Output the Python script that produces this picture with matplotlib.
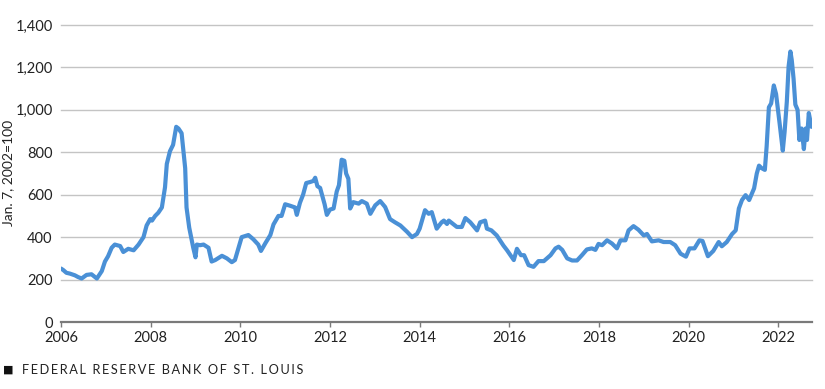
import matplotlib
matplotlib.use('Agg')
import matplotlib.pyplot as plt

# ---- font ----
plt.rcParams['font.family'] = ['Lato', 'DejaVu Sans']

# ---- data (decimal year, index Jan. 7, 2002=100) ----
years = [
    2006.00, 2006.05, 2006.12, 2006.20, 2006.31, 2006.38, 2006.46, 2006.57, 2006.68,
    2006.80, 2006.91, 2006.98, 2007.05, 2007.13, 2007.20, 2007.32, 2007.39, 2007.50,
    2007.62, 2007.73, 2007.84, 2007.91, 2007.99, 2008.03, 2008.10, 2008.17, 2008.25,
    2008.32, 2008.36, 2008.43, 2008.50, 2008.57, 2008.62, 2008.69, 2008.77, 2008.80,
    2008.86, 2008.95, 2009.00, 2009.03, 2009.10, 2009.18, 2009.29, 2009.36, 2009.44,
    2009.59, 2009.70, 2009.81, 2009.88, 2009.96, 2010.03, 2010.18, 2010.29, 2010.40,
    2010.46, 2010.56, 2010.67, 2010.74, 2010.85, 2010.92, 2011.00, 2011.11, 2011.22,
    2011.26, 2011.33, 2011.40, 2011.47, 2011.56, 2011.63, 2011.67, 2011.72, 2011.78,
    2011.88, 2011.93, 2012.00, 2012.08, 2012.15, 2012.20, 2012.26, 2012.32, 2012.36,
    2012.41, 2012.45, 2012.52, 2012.64, 2012.71, 2012.82, 2012.90, 2013.01, 2013.12,
    2013.23, 2013.34, 2013.45, 2013.57, 2013.72, 2013.83, 2013.94, 2014.00, 2014.12,
    2014.20, 2014.27, 2014.38, 2014.49, 2014.54, 2014.61, 2014.65, 2014.83, 2014.94,
    2015.02, 2015.13, 2015.28, 2015.35, 2015.46, 2015.50, 2015.60, 2015.72, 2015.87,
    2015.95, 2016.10, 2016.17, 2016.26, 2016.33, 2016.43, 2016.54, 2016.65, 2016.77,
    2016.92, 2017.03, 2017.10, 2017.18, 2017.29, 2017.40, 2017.51, 2017.62, 2017.73,
    2017.84, 2017.92, 2017.99, 2018.07, 2018.18, 2018.29, 2018.40, 2018.48, 2018.59,
    2018.66, 2018.77, 2018.88, 2019.00, 2019.07, 2019.18, 2019.33, 2019.44, 2019.59,
    2019.70, 2019.82, 2019.94, 2020.02, 2020.13, 2020.24, 2020.31, 2020.43, 2020.55,
    2020.67, 2020.74, 2020.85, 2020.97, 2021.05, 2021.12, 2021.19, 2021.27, 2021.35,
    2021.46, 2021.52, 2021.57, 2021.63, 2021.70, 2021.74, 2021.79, 2021.84, 2021.90,
    2021.95, 2022.03, 2022.10, 2022.14, 2022.19, 2022.23, 2022.27, 2022.30, 2022.34,
    2022.38, 2022.43, 2022.47, 2022.52, 2022.57, 2022.61, 2022.64, 2022.68, 2022.74,
]
values = [
    252, 245, 232, 228, 220, 212, 205, 222, 225,
    205, 240, 285, 310, 350, 365, 358, 330, 345,
    338, 365, 400, 455, 485, 478, 500, 515, 540,
    635, 745, 805, 835, 920, 912, 890, 725, 540,
    445, 350, 305, 365, 362, 365, 350, 285, 292,
    312, 300, 282, 292, 350, 400, 410, 390, 365,
    335, 372, 410, 460, 500, 500, 555, 548, 540,
    505, 562, 600, 655, 660, 665, 680, 640, 632,
    555, 505, 530, 535, 615, 645, 765, 760, 700,
    675, 535, 565, 558, 570, 558, 510, 550, 570,
    542, 485, 470, 455, 425, 400, 415, 440, 527,
    510, 518, 440, 470, 478, 462, 478, 448, 448,
    490, 470, 432, 470, 478, 440, 432, 408, 360,
    338, 292, 345, 315, 315, 268, 260, 287, 287,
    315, 347, 355, 340, 300, 290, 290, 315, 342,
    347, 340, 368, 362, 385, 370, 347, 385, 385,
    432, 452, 435, 408, 415, 380, 385, 377, 377,
    362, 322, 308, 347, 347, 385, 382, 310, 335,
    377, 357, 377, 415, 432, 535, 575, 598, 575,
    630, 700, 737, 725, 717, 828, 1012, 1030, 1115,
    1075, 935, 808, 895, 1038, 1205, 1275, 1235, 1148,
    1025, 1000, 858, 912, 815, 912, 858, 985, 920,
]
x_ticks = [2006, 2008, 2010, 2012, 2014, 2016, 2018, 2020, 2022]
y_ticks = [0, 200, 400, 600, 800, 1000, 1200, 1400]
y_label = 'Jan. 7, 2002=100'
source = 'FEDERAL RESERVE BANK OF ST. LOUIS'

# ---- figure ----
fig = plt.figure(figsize=(8.25, 3.89), dpi=100)
ax = fig.add_axes([61 / 825, 1 - 322 / 389, 750.7 / 825, 297 / 389])

for yt in y_ticks[1:]:
    ax.axhline(yt, color='#c4c4c4', linewidth=1.0, zorder=1, clip_on=False)

ax.plot(years, values, color='#4a90d6', linewidth=3.0, solid_joinstyle='round',
        solid_capstyle='round', zorder=3)

ax.set_xlim(2006, 2022.745)
ax.set_ylim(0, 1400)
ax.set_xticks(x_ticks)
ax.set_xticklabels([str(t) for t in x_ticks])
ax.set_yticks(y_ticks)
ax.set_yticklabels(['{:,}'.format(t) for t in y_ticks])

for side in ['top', 'right', 'left']:
    ax.spines[side].set_visible(False)
ax.spines['bottom'].set_color('#7a7a7a')
ax.spines['bottom'].set_linewidth(1.6)

ax.tick_params(axis='x', direction='out', length=3.5, width=1, color='#7a7a7a',
               labelsize=10.5, labelcolor='#222222', pad=3)
ax.tick_params(axis='y', length=0, labelsize=10.5, labelcolor='#222222', pad=6)

# ---- y label ----
fig.text(8 / 825, 1 - 173 / 389, y_label, fontsize=10, color='#222222',
         rotation=90, ha='center', va='center')

# ---- source line ----
fig.text(3 / 825, 1 - 370 / 389, '\u25a0', fontsize=8, color='#111111',
         va='center', ha='left', family=['DejaVu Sans'])
fig.text(22 / 825, 1 - 370 / 389, '\u2009'.join(source), fontsize=9.2,
         color='#222222', va='center', ha='left', family=['Lato', 'DejaVu Sans'])

fig.savefig('out.png', dpi=100)
plt.close()
